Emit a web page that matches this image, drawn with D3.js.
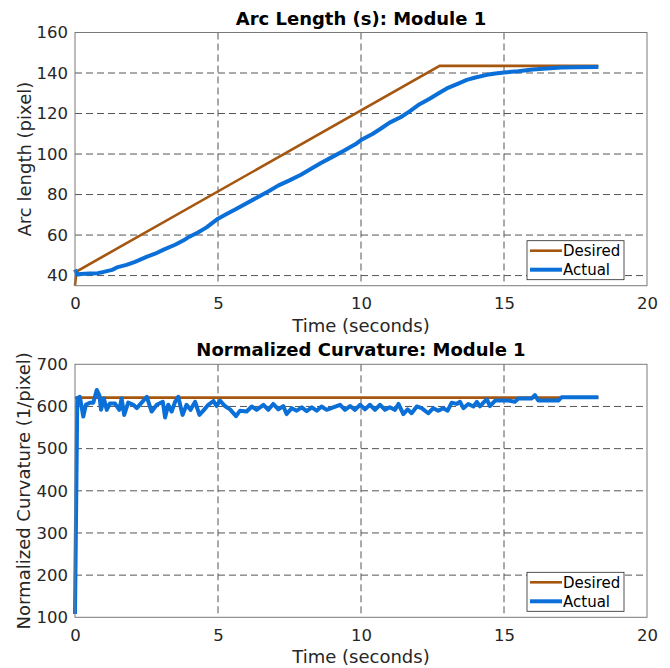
<!DOCTYPE html>
<html>
<head>
<meta charset="utf-8">
<script src="https://cdn.jsdelivr.net/npm/d3@7"></script>
<style>
  body { margin: 0; background: #fff; }
  svg { font-family: "DejaVu Sans", sans-serif; }
</style>
</head>
<body>
<script>
const WIDTH = 670;
const HEIGHT = 668;
const LEFT = 75;
const RIGHT = 647;

const xTicks = [0, 5, 10, 15, 20];
const arcTicks = [40, 60, 80, 100, 120, 140, 160];
const curvTicks = [100, 200, 300, 400, 500, 600, 700];

// Arc length (top)
const arcDesiredT = [0, 0.05, 12.75, 18.3];
const arcDesiredV = [35, 42, 143.5, 143.5];
const arcActualT = [0, 0.08, 0.2, 0.5, 0.8, 1.0, 1.3, 1.5, 1.8, 2.1, 2.5, 2.8, 3.1, 3.5, 3.8, 4.0, 4.3, 4.6, 5.0, 5.3, 5.6, 6.0, 6.4, 6.8, 7.1, 7.5, 7.9, 8.3, 8.6, 9.0, 9.4, 9.8, 10.0, 10.4, 10.7, 11.0, 11.4, 11.7, 12.0, 12.4, 12.7, 13.0, 13.4, 13.7, 14.0, 14.4, 14.7, 15.0, 15.5, 16.0, 16.5, 17.0, 17.5, 18.3];
const arcActualV = [43, 40.5, 40.8, 41, 41.2, 41.8, 42.8, 44.2, 45.3, 46.8, 49.2, 50.8, 52.8, 55.2, 57.4, 59.2, 61.3, 63.8, 68.1, 70.4, 72.6, 75.7, 78.8, 81.9, 84.4, 87, 89.8, 93.1, 95.6, 98.6, 101.6, 104.8, 106.9, 109.9, 112.6, 115.5, 118.3, 121.1, 124.2, 127.3, 129.9, 132.4, 134.8, 136.6, 137.8, 139.1, 139.8, 140.3, 140.9, 141.7, 142.2, 142.7, 142.9, 143];

// Normalized curvature (bottom)
const curvDesiredT = [0, 18.3];
const curvDesiredV = [621, 621];
const curvActualT = [0, 0.08, 0.17, 0.29, 0.38, 0.52, 0.64, 0.76, 0.85, 0.91, 1.01, 1.11, 1.22, 1.40, 1.55, 1.63, 1.72, 1.86, 2.04, 2.16, 2.33, 2.51, 2.68, 2.86, 3.07, 3.15, 3.26, 3.38, 3.50, 3.61, 3.76, 3.90, 4.04, 4.20, 4.35, 4.51, 4.66, 4.84, 4.95, 5.07, 5.24, 5.42, 5.63, 5.77, 6.00, 6.18, 6.35, 6.59, 6.76, 6.93, 7.11, 7.28, 7.40, 7.58, 7.75, 7.93, 8.10, 8.28, 8.45, 8.62, 8.80, 9.03, 9.27, 9.44, 9.62, 9.79, 9.97, 10.14, 10.31, 10.49, 10.66, 10.84, 11.01, 11.19, 11.31, 11.48, 11.63, 11.77, 11.95, 12.12, 12.35, 12.53, 12.70, 12.88, 13.03, 13.17, 13.34, 13.46, 13.58, 13.75, 13.93, 14.05, 14.16, 14.28, 14.40, 14.51, 14.69, 14.92, 15.15, 15.38, 15.50, 15.97, 16.08, 16.20, 16.90, 17.02, 18.30];
const curvActualV = [108, 619, 623, 576, 604, 609, 609, 639, 627, 592, 619, 592, 607, 607, 592, 619, 580, 609, 604, 596, 609, 623, 588, 604, 611, 574, 604, 588, 611, 623, 580, 604, 592, 611, 580, 592, 604, 613, 601, 614, 601, 593, 577, 590, 588, 600, 592, 604, 592, 606, 593, 601, 582, 596, 590, 598, 589, 598, 590, 600, 592, 598, 604, 592, 601, 592, 604, 593, 604, 592, 604, 592, 598, 592, 606, 582, 593, 584, 600, 596, 584, 596, 590, 596, 590, 609, 606, 611, 596, 606, 600, 611, 600, 609, 617, 601, 614, 614, 614, 611, 619, 619, 627, 614, 614, 622, 622];

const legendLabels = ["Desired", "Actual"];
const COLORS = { desired: "#a5560f", actual: "#0b6fd8" };

const svg = d3.select("body")
  .append("svg")
  .attr("width", WIDTH)
  .attr("height", HEIGHT);

function drawPanel(cfg) {
  const x = d3.scaleLinear().domain([0, 20]).range([LEFT, RIGHT]);
  const y = d3.scaleLinear().domain(cfg.domain).range([cfg.bottom, cfg.top]);
  const g = svg.append("g");

  // grid punteado
  g.selectAll(".gx").data(xTicks.slice(1, -1)).join("line")
    .attr("x1", d => x(d)).attr("x2", d => x(d))
    .attr("y1", cfg.top).attr("y2", cfg.bottom)
    .attr("stroke", "#555").attr("stroke-dasharray", "7,4");
  g.selectAll(".gy").data(cfg.ticks.filter(d => d > cfg.domain[0] && d < cfg.domain[1])).join("line")
    .attr("x1", LEFT).attr("x2", RIGHT)
    .attr("y1", d => y(d)).attr("y2", d => y(d))
    .attr("stroke", "#555").attr("stroke-dasharray", "7,4");

  // lineas
  const line = d3.line().x(d => x(d[0])).y(d => y(d[1]));
  g.append("path")
    .datum(cfg.desT.map((t, i) => [t, cfg.desV[i]]))
    .attr("d", line).attr("fill", "none")
    .attr("stroke", COLORS.desired).attr("stroke-width", 2.6);
  g.append("path")
    .datum(cfg.actT.map((t, i) => [t, cfg.actV[i]]))
    .attr("d", line).attr("fill", "none")
    .attr("stroke", COLORS.actual).attr("stroke-width", 4)
    .attr("stroke-linejoin", "round");

  // caja
  g.append("rect")
    .attr("x", LEFT).attr("y", cfg.top)
    .attr("width", RIGHT - LEFT).attr("height", cfg.bottom - cfg.top)
    .attr("fill", "none").attr("stroke", "#7a7a7a").attr("stroke-width", 1);

  // ejes
  const ejeX = d3.axisBottom(x).tickValues(xTicks).tickSize(0).tickPadding(8);
  const gx = g.append("g").attr("transform", `translate(0,${cfg.bottom})`).call(ejeX);
  gx.select(".domain").remove();
  gx.selectAll("text").attr("font-size", 16.5).attr("fill", "#262626")
    .attr("font-family", "DejaVu Sans").attr("dy", "0.95em");

  const ejeY = d3.axisLeft(y).tickValues(cfg.ticks).tickSize(0).tickPadding(7);
  const gy = g.append("g").attr("transform", `translate(${LEFT},0)`).call(ejeY);
  gy.select(".domain").remove();
  gy.selectAll("text").attr("font-size", 16.5).attr("fill", "#262626")
    .attr("font-family", "DejaVu Sans");

  // textos
  g.append("text").attr("x", 361).attr("y", cfg.top - 8)
    .attr("text-anchor", "middle").attr("font-weight", "bold")
    .attr("font-size", 18).attr("fill", "#000").text(cfg.title);
  g.append("text").attr("x", 361).attr("y", cfg.bottom + 46)
    .attr("text-anchor", "middle").attr("font-size", 18)
    .attr("fill", "#262626").text("Time (seconds)");
  g.append("text")
    .attr("transform", `translate(${cfg.labelX},${(cfg.top + cfg.bottom) / 2}) rotate(-90)`)
    .attr("text-anchor", "middle").attr("font-size", 18)
    .attr("fill", "#262626").text(cfg.ylabel);

  // leyenda
  const leg = g.append("g").attr("transform", `translate(527,${cfg.bottom - 45})`);
  leg.append("rect").attr("width", 97).attr("height", 39)
    .attr("fill", "#fff").attr("stroke", "#262626").attr("stroke-width", 0.8);
  leg.selectAll("line").data(legendLabels).join("line")
    .attr("x1", 3).attr("x2", 35)
    .attr("y1", (d, i) => 10 + i * 19).attr("y2", (d, i) => 10 + i * 19)
    .attr("stroke", (d, i) => i === 0 ? COLORS.desired : COLORS.actual)
    .attr("stroke-width", (d, i) => i === 0 ? 2.6 : 4);
  leg.selectAll("text").data(legendLabels).join("text")
    .attr("x", 36).attr("y", (d, i) => 15.5 + i * 19)
    .attr("font-size", 15).attr("fill", "#000").text(d => d);
}

drawPanel({
  top: 32.5, bottom: 285.7, domain: [35, 160], ticks: arcTicks,
  title: "Arc Length (s): Module 1", ylabel: "Arc length (pixel)", labelX: 31,
  desT: arcDesiredT, desV: arcDesiredV, actT: arcActualT, actV: arcActualV
});

drawPanel({
  top: 364.3, bottom: 617.3, domain: [100, 700], ticks: curvTicks,
  title: "Normalized Curvature: Module 1", ylabel: "Normalized Curvature (1/pixel)", labelX: 30,
  desT: curvDesiredT, desV: curvDesiredV, actT: curvActualT, actV: curvActualV
});
</script>
</body>
</html>
